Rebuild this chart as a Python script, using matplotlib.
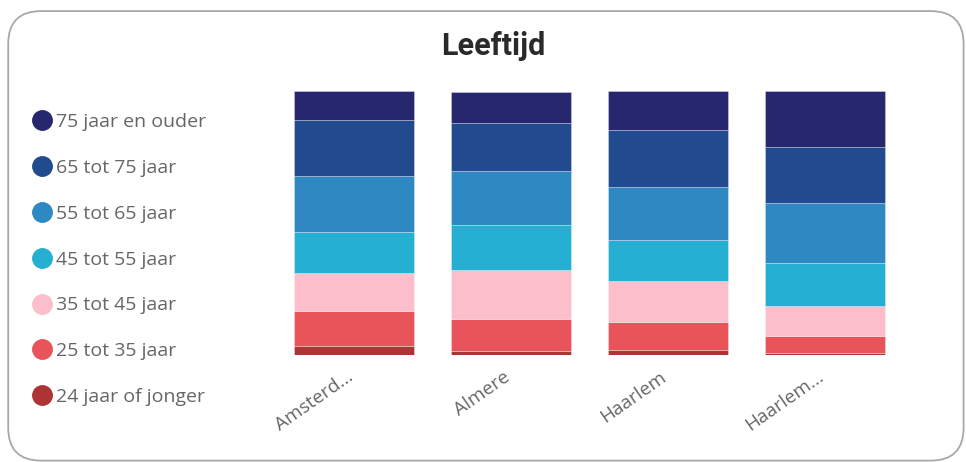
import numpy as np
import matplotlib.pyplot as plt
import matplotlib.transforms as mtrans
from matplotlib.lines import Line2D
from matplotlib.patches import FancyBboxPatch

# plaatsen en leeftijdsverdeling (% per plaats)
plaatsen = ['Amsterd...', 'Almere', 'Haarlem', 'Haarlem...']
groepen = ['24 jaar of jonger', '25 tot 35 jaar', '35 tot 45 jaar', '45 tot 55 jaar',
           '55 tot 65 jaar', '65 tot 75 jaar', '75 jaar en ouder']
jong = [3.6, 1.6, 2.0, 1.0]
g25_35 = [13.1, 12.0, 10.6, 6.3]
g35_45 = [14.3, 18.9, 15.6, 11.4]
g45_55 = [15.8, 16.8, 15.4, 16.4]
g55_65 = [21.2, 20.7, 20.2, 22.7]
g65_75 = [21.1, 18.2, 21.5, 21.2]
oud = [10.9, 11.7, 14.7, 21.0]
kleuren = ['#ae3335', '#e9535a', '#fdbecc', '#25b0d3', '#2e88c2', '#224b8f', '#27276f']

waarden = [jong, g25_35, g35_45, g45_55, g55_65, g65_75, oud]

fig = plt.figure(figsize=(9.66, 4.62), dpi=100)

# kader met afgeronde hoeken
kader = FancyBboxPatch((0.0085, 0.003), 0.989, 0.973,
                       boxstyle='round,pad=0,rounding_size=0.034',
                       transform=fig.transFigure, facecolor='none',
                       edgecolor='#a8a8a8', linewidth=1.3,
                       mutation_aspect=966 / 462, zorder=-1)
fig.patches.append(kader)

ax = fig.add_axes([0.285, 0.231, 0.650, 0.571])
x = np.arange(len(plaatsen))
bodem = np.zeros(len(plaatsen))
for vals, kleur, naam in zip(waarden, kleuren, groepen):
    ax.bar(x, vals, bottom=bodem, width=0.766, color=kleur,
           edgecolor=(1, 1, 1, 0.35), linewidth=0.6, label=naam)
    bodem += np.array(vals)

ax.set_xlim(-0.5, len(plaatsen) - 0.5)
ax.set_ylim(0, 100)
ax.set_yticks([])
ax.set_xticks(x)
ax.set_xticklabels(plaatsen, rotation=35, ha='right', rotation_mode='anchor',
                   color='#666666', fontsize=13.7, family='Open Sans')
ax.tick_params(axis='x', length=0, pad=9)
verschuif = mtrans.ScaledTranslation(-0.08, 0, fig.dpi_scale_trans)
for lbl in ax.get_xticklabels():
    lbl.set_transform(lbl.get_transform() + verschuif)
for s in ax.spines.values():
    s.set_visible(False)
ax.patch.set_alpha(0)

fig.text(0.511, 0.900, 'Leeftijd', ha='center', va='center',
         fontsize=22, fontweight='bold', family='Roboto', color='#2a2a2a')

handles = [Line2D([], [], marker='o', linestyle='', markersize=14,
                  markerfacecolor=k, markeredgecolor=k)
           for k in kleuren[::-1]]
fig.legend(handles, groepen[::-1], loc='upper left',
           bbox_to_anchor=(0.0155, 0.772), frameon=False,
           handletextpad=-0.3, labelspacing=1.43, borderaxespad=0,
           prop={'family': 'Open Sans', 'size': 14}, labelcolor='#666666')

fig.savefig('out.png', dpi=100)
